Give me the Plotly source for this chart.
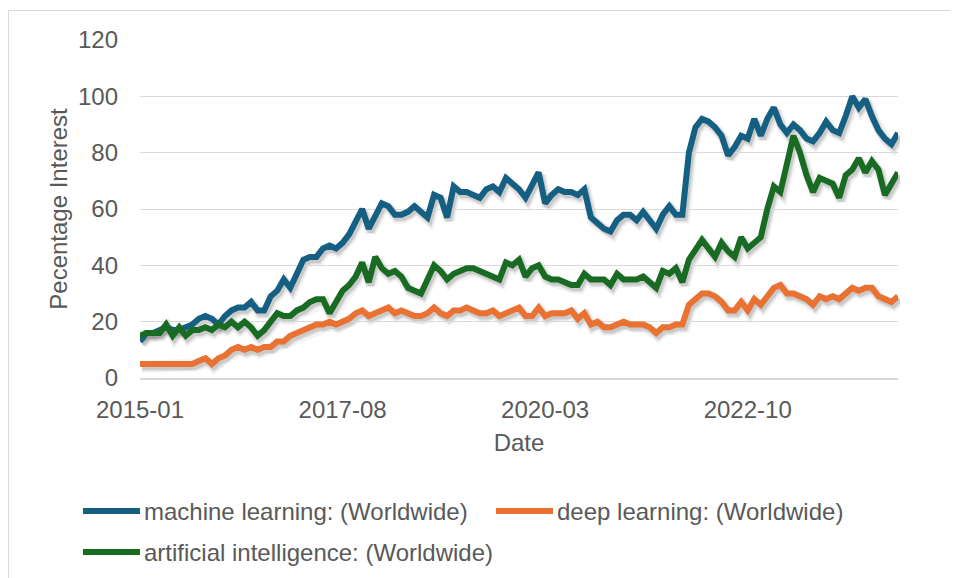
import pandas as pd
import plotly.graph_objects as go

# ---------------- data ----------------
months = pd.date_range("2015-01-01", "2024-09-01", freq="MS").strftime("%Y-%m").tolist()

machine_learning = [
    13, 16, 16, 17, 18, 17, 17, 18, 19, 21, 22, 21, 19, 22, 24, 25, 25, 27, 24, 24,
    29, 31, 35, 32, 37, 42, 43, 43, 46, 47, 46, 48, 51, 56, 60, 53, 58, 62, 61, 58,
    58, 59, 61, 59, 57, 65, 64, 57, 68, 66, 66, 65, 64, 67, 68, 66, 71, 69, 67, 64,
    69, 73, 62, 65, 67, 66, 66, 65, 67, 57, 55, 53, 52, 56, 58, 58, 56, 59, 56, 53,
    58, 61, 58, 58, 80, 89, 92, 91, 89, 86, 79, 82, 86, 85, 92, 86, 92, 96, 90, 87,
    90, 88, 85, 84, 87, 91, 88, 87, 93, 100, 96, 99, 93, 88, 85, 83, 87,
]
deep_learning = [
    5, 5, 5, 5, 5, 5, 5, 5, 5, 6, 7, 5, 7, 8, 10, 11, 10, 11, 10, 11,
    11, 13, 13, 15, 16, 17, 18, 19, 19, 20, 19, 20, 21, 23, 24, 22, 23, 24, 25, 23,
    24, 23, 22, 22, 23, 25, 23, 22, 24, 24, 25, 24, 23, 23, 24, 22, 23, 24, 25, 22,
    22, 25, 22, 23, 23, 23, 24, 21, 23, 19, 20, 18, 18, 19, 20, 19, 19, 19, 18, 16,
    18, 18, 19, 19, 26, 28, 30, 30, 29, 27, 24, 24, 27, 24, 28, 26, 29, 32, 33, 30,
    30, 29, 28, 26, 29, 28, 29, 28, 30, 32, 31, 32, 32, 29, 28, 27, 29,
]
artificial_intelligence = [
    15, 16, 16, 16, 19, 15, 18, 15, 17, 17, 18, 17, 19, 18, 20, 18, 20, 18, 15, 17,
    20, 23, 22, 22, 24, 25, 27, 28, 28, 23, 27, 31, 33, 36, 41, 34, 43, 39, 37, 38,
    36, 32, 31, 30, 35, 40, 38, 35, 37, 38, 39, 39, 38, 37, 36, 35, 41, 40, 42, 36,
    39, 40, 36, 35, 35, 34, 33, 33, 37, 35, 35, 35, 33, 37, 35, 35, 35, 36, 34, 32,
    38, 37, 39, 34, 42, 46, 49, 46, 43, 48, 45, 43, 50, 46, 48, 50, 60, 68, 66, 76,
    86, 80, 72, 66, 71, 70, 69, 64, 72, 74, 78, 73, 77, 74, 65, 69, 73,
]

series_names = [
    "machine learning: (Worldwide)",
    "deep learning: (Worldwide)",
    "artificial intelligence: (Worldwide)",
]
series_values = [machine_learning, deep_learning, artificial_intelligence]
series_colors = ["#156082", "#E97132", "#196B24"]

x_tick_labels = ["2015-01", "2017-08", "2020-03", "2022-10"]
y_tick_values = [0, 20, 40, 60, 80, 100, 120]

# ---------------- geometry (page pixels; page body has an 8px margin) ----------------
OFF = 8
W, H = 958 - OFF, 578 - OFF
PL, PR, PT, PB = 140 - OFF, 898 - OFF, 40 - OFF, 378 - OFF   # main plot area
SDX, SDY = 2, 3                                                 # shadow offset
PAPER_R, PAPER_B = PR + SDX, PB + SDY
paper_w = PAPER_R - PL
paper_h = PAPER_B - PT


def px(xp):          # page x -> paper
    return (xp - OFF - PL) / paper_w


def py(yp):          # page y -> paper
    return (PAPER_B - (yp - OFF)) / paper_h


FONT = "Liberation Sans, Arial, sans-serif"
TXT = "#595959"
GRID = "#d9d9d9"
FS = 24
LW = 6

fig = go.Figure()

# soft shadow traces (lower subplot x/y, shifted down-right)
for vals in series_values:
    for w, a in [(12, 0.04), (9, 0.07), (6, 0.11)]:
        fig.add_trace(go.Scatter(
            x=months, y=vals, mode="lines", xaxis="x", yaxis="y",
            line=dict(color=f"rgba(0,0,0,{a})", width=w),
            hoverinfo="skip", showlegend=False,
        ))

# main series (upper subplot x2/y2)
for name, vals, col in zip(series_names, series_values, series_colors):
    fig.add_trace(go.Scatter(
        x=months, y=vals, mode="lines", name=name, xaxis="x2", yaxis="y2",
        line=dict(color=col, width=LW), showlegend=False,
    ))

xrange_ = [0, len(months) - 1]

fig.update_layout(
    width=W, height=H,
    margin=dict(l=PL, r=W - PAPER_R, t=PT, b=H - PAPER_B, pad=0),
    paper_bgcolor="white", plot_bgcolor="rgba(0,0,0,0)",
    font=dict(family=FONT, color=TXT, size=FS),
    xaxis=dict(type="category", range=xrange_, domain=[SDX / paper_w, 1],
               visible=False, anchor="y", categoryorder="array", categoryarray=months),
    yaxis=dict(range=[0, 120], domain=[0, 1 - SDY / paper_h], visible=False, anchor="x"),
    xaxis2=dict(type="category", range=xrange_, domain=[0, 1 - SDX / paper_w], anchor="y2",
                categoryorder="array", categoryarray=months,
                tickmode="array", tickvals=x_tick_labels, ticktext=x_tick_labels,
                showgrid=False, showline=True, linecolor=GRID, linewidth=1.5,
                ticks="", ticklabelstandoff=9,
                tickfont=dict(size=FS, color=TXT),
                title=dict(text="Date", font=dict(size=FS, color=TXT), standoff=13)),
    yaxis2=dict(range=[0, 120], domain=[SDY / paper_h, 1], anchor="x2",
                tickmode="array", tickvals=y_tick_values,
                showgrid=True, gridcolor=GRID, gridwidth=1.2, zeroline=False,
                ticks="", ticklabelstandoff=21,
                tickfont=dict(size=FS, color=TXT),
                title=dict(text="Pecentage Interest", font=dict(size=FS, color=TXT), standoff=3)),
)

# chart-area border (left edge kept just inside the figure)
fig.add_shape(type="rect", xref="paper", yref="paper",
              x0=px(8.5), y0=py(600), x1=px(990), y1=py(10.5),
              line=dict(color=GRID, width=1), fillcolor="rgba(0,0,0,0)", layer="below")

# legend (sample line + label), page coordinates
legend_items = [
    (83, 140, 142, 511),
    (496, 553, 555, 511),
    (83, 140, 142, 552),
]
for (lx0, lx1, tx, ly), name, col in zip(legend_items, series_names, series_colors):
    fig.add_shape(type="line", xref="paper", yref="paper",
                  x0=px(lx0), x1=px(lx1), y0=py(ly), y1=py(ly),
                  line=dict(color=col, width=6))
    fig.add_annotation(xref="paper", yref="paper", x=px(tx), y=py(ly),
                       text=name, showarrow=False, xanchor="left", yanchor="middle",
                       font=dict(size=FS, color=TXT, family=FONT))

fig.write_html("out.html")
